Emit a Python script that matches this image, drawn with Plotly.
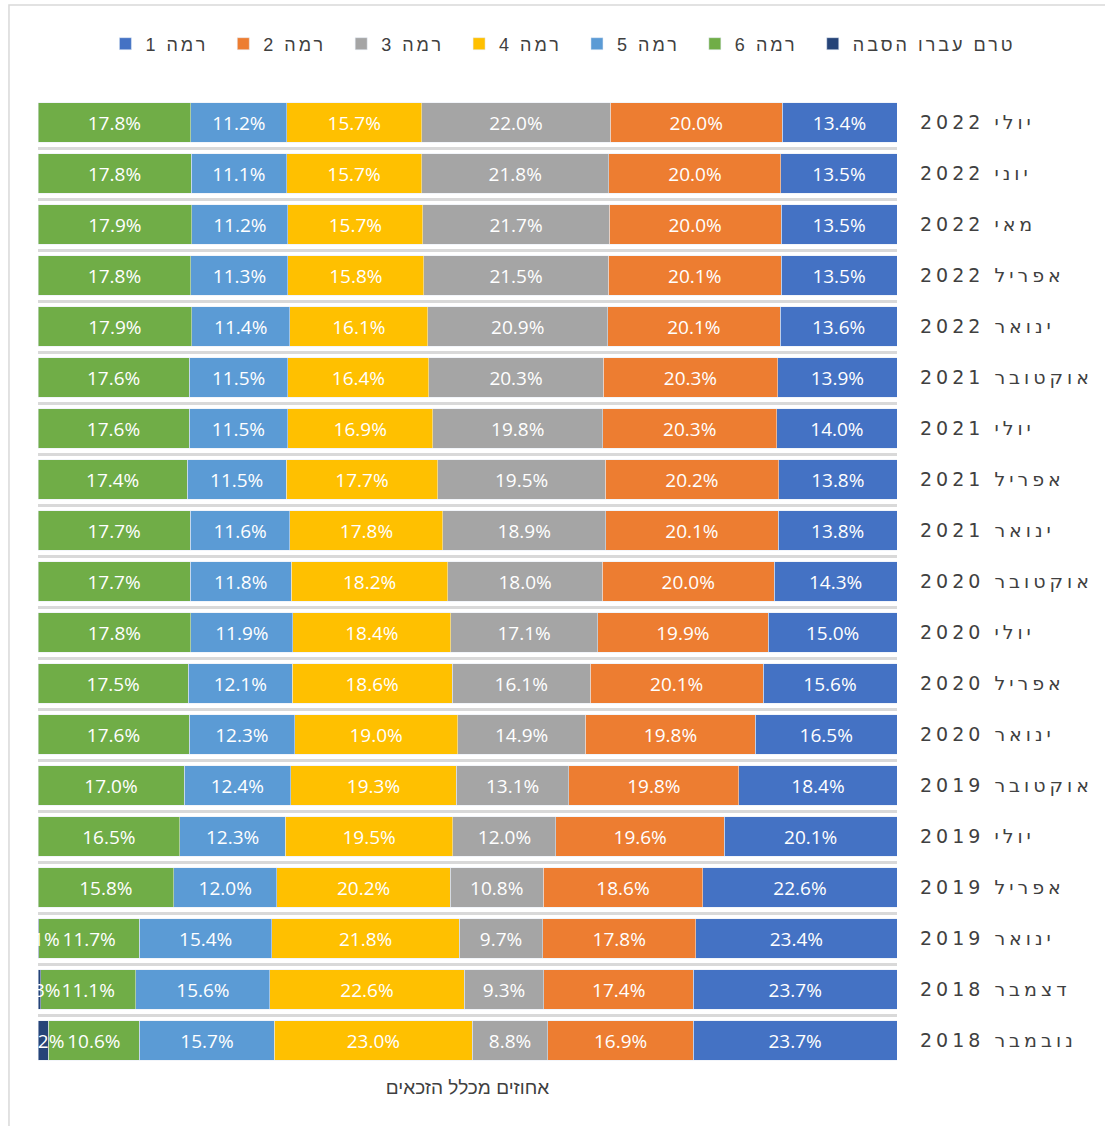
import plotly.graph_objects as go

# Periods, top to bottom
periods = [
    "יולי 2022", "יוני 2022", "מאי 2022", "אפריל 2022", "ינואר 2022",
    "אוקטובר 2021", "יולי 2021", "אפריל 2021", "ינואר 2021",
    "אוקטובר 2020", "יולי 2020", "אפריל 2020", "ינואר 2020",
    "אוקטובר 2019", "יולי 2019", "אפריל 2019", "ינואר 2019",
    "דצמבר 2018", "נובמבר 2018",
]

# Share of all eligible (%) per level
level1 = [13.4, 13.5, 13.5, 13.5, 13.6, 13.9, 14.0, 13.8, 13.8, 14.3,
          15.0, 15.6, 16.5, 18.4, 20.1, 22.6, 23.4, 23.7, 23.7]
level2 = [20.0, 20.0, 20.0, 20.1, 20.1, 20.3, 20.3, 20.2, 20.1, 20.0,
          19.9, 20.1, 19.8, 19.8, 19.6, 18.6, 17.8, 17.4, 16.9]
level3 = [22.0, 21.8, 21.7, 21.5, 20.9, 20.3, 19.8, 19.5, 18.9, 18.0,
          17.1, 16.1, 14.9, 13.1, 12.0, 10.8, 9.7, 9.3, 8.8]
level4 = [15.7, 15.7, 15.7, 15.8, 16.1, 16.4, 16.9, 17.7, 17.8, 18.2,
          18.4, 18.6, 19.0, 19.3, 19.5, 20.2, 21.8, 22.6, 23.0]
level5 = [11.2, 11.1, 11.2, 11.3, 11.4, 11.5, 11.5, 11.5, 11.6, 11.8,
          11.9, 12.1, 12.3, 12.4, 12.3, 12.0, 15.4, 15.6, 15.7]
level6 = [17.8, 17.8, 17.9, 17.8, 17.9, 17.6, 17.6, 17.4, 17.7, 17.7,
          17.8, 17.5, 17.6, 17.0, 16.5, 15.8, 11.7, 11.1, 10.6]
not_yet = [None] * 16 + [0.1, 0.3, 1.2]

series = [
    ("רמה 1", level1, "#4472C4"),
    ("רמה 2", level2, "#ED7D31"),
    ("רמה 3", level3, "#A5A5A5"),
    ("רמה 4", level4, "#FFC000"),
    ("רמה 5", level5, "#5B9BD5"),
    ("רמה 6", level6, "#70AD47"),
    ("טרם עברו הסבה", not_yet, "#264478"),
]

# trailing space so legend entries sit further apart (and the last one isn't cut)
PAD = "\u00a0" * 5
PAD_LAST = "\u00a0" * 8

fig = go.Figure()
for name, vals, color in series:
    fig.add_trace(go.Bar(
        y=periods, x=vals, orientation="h",
        name=name + (PAD_LAST if name.startswith("טרם") else PAD),
        marker=dict(color=color),
        text=["" if v is None else f"{v:.1f}%" for v in vals],
        texttemplate="%{text}",
        textposition="inside", insidetextanchor="middle", textangle=0,
        textfont=dict(color="white", size=19, family="Open Sans"),
        hoverinfo="name+x+y",
    ))

# outer chart frame (Excel-style border)
fig.add_shape(type="rect", xref="paper", yref="paper",
              x0=-0.0338, x1=1.26, y0=-0.07, y1=1.0949,
              line=dict(color="#D9D9D9", width=1.5), layer="below")

fig.update_layout(
    width=1105, height=1126,
    barmode="stack", barnorm="percent", bargap=0.22,
    plot_bgcolor="white", paper_bgcolor="white",
    margin=dict(l=38, r=208, t=97, b=60),
    uniformtext=dict(mode="show", minsize=19),
    legend=dict(
        orientation="h", x=1.146, xanchor="right", y=1.0547, yanchor="middle",
        font=dict(size=18, family="Liberation Sans", color="#404040"),
        traceorder="normal",
    ),
    xaxis=dict(
        range=[100, 0], showticklabels=False, showgrid=False, zeroline=False,
        title=dict(text="אחוזים מכלל הזכאים", standoff=14,
                   font=dict(size=19, family="Liberation Sans", color="#404040")),
    ),
    yaxis=dict(
        side="right", autorange="reversed", tickson="boundaries",
        showgrid=True, gridcolor="#D9D9D9", gridwidth=2.5,
        ticks="", ticklabelstandoff=22,
        tickfont=dict(size=19, family="DejaVu Sans", color="#404040"),
    ),
)

# no page margin; letter-spaced category and legend labels like the original
post = (
    "document.body.style.margin='0';"
    "document.querySelectorAll('.ytick text').forEach(function(t){"
    "t.style.letterSpacing='4px';});"
    "document.querySelectorAll('.legendtext').forEach(function(t){"
    "t.style.letterSpacing='3px';});"
)
fig.write_html("out.html", post_script=post, config={"displayModeBar": False})
